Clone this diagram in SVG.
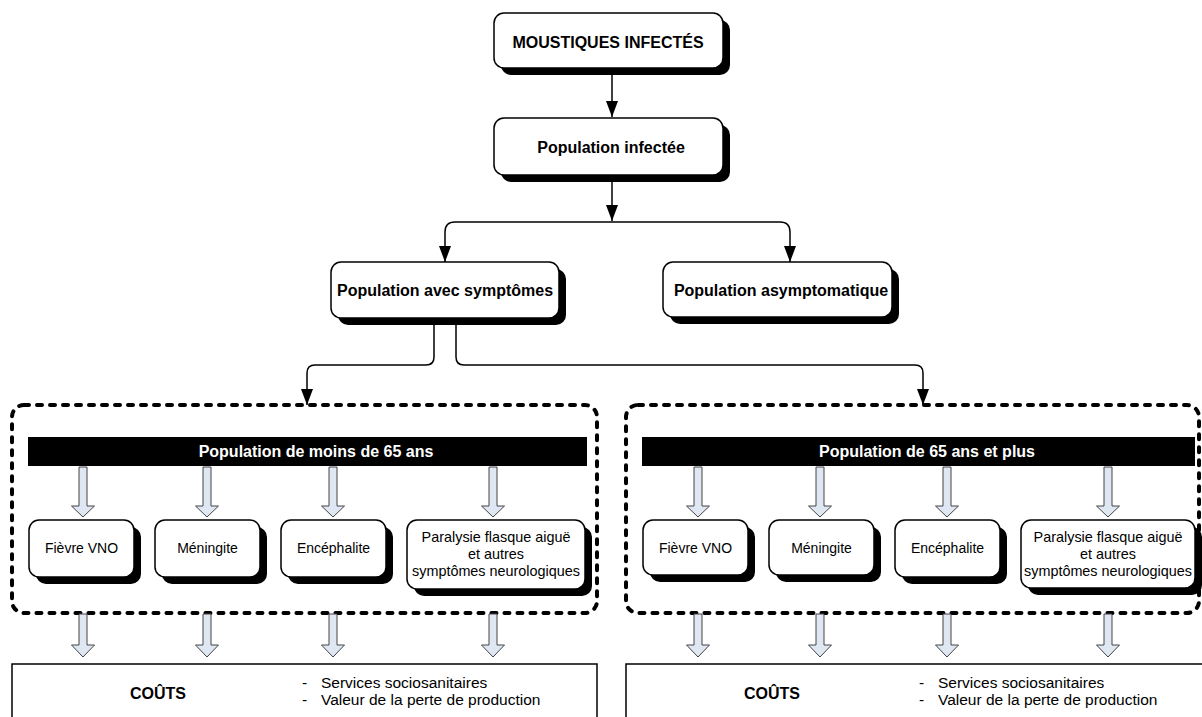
<svg xmlns="http://www.w3.org/2000/svg" width="1202" height="717" viewBox="0 0 1202 717">
<style>
.box{fill:#fff;stroke:#000;stroke-width:1.5}
.sh{fill:#000}
.hd{font-family:"Liberation Sans",Arial,sans-serif;font-weight:bold;font-size:16px;fill:#000;text-anchor:middle}
.wt{font-family:"Liberation Sans",Arial,sans-serif;font-weight:bold;font-size:16px;fill:#fff;text-anchor:middle}
.tx{font-family:"Liberation Sans",Arial,sans-serif;font-size:14px;fill:#000;text-anchor:middle}
.tp{font-family:"Liberation Sans",Arial,sans-serif;font-size:14.4px;fill:#000;text-anchor:middle}
.ct{font-family:"Liberation Sans",Arial,sans-serif;font-size:15.5px;fill:#000}
.con{fill:none;stroke:#000;stroke-width:1.5}
.dash{fill:none;stroke:#000;stroke-width:4;stroke-dasharray:5 8;stroke-linecap:round}
.ha{fill:#dfe7f3;stroke:#444;stroke-width:1}
.cost{fill:#fff;stroke:#000;stroke-width:1.5}
</style>
<defs>
<marker id="ah" viewBox="0 0 16 12" refX="16" refY="6" markerWidth="16" markerHeight="12" markerUnits="userSpaceOnUse" orient="auto">
<path d="M0,0 L16,6 L0,12 z" fill="#000"/>
</marker>
</defs>

<g id="connectors">
<path class="con" d="M612,68 V117" marker-end="url(#ah)"/>
<path class="con" d="M612,175 V221" marker-end="url(#ah)"/>
<path class="con" d="M612,222 H455 Q445,222 445,232 V262" marker-end="url(#ah)"/>
<path class="con" d="M612,222 H780 Q790,222 790,232 V262" marker-end="url(#ah)"/>
<path class="con" d="M434,318 V357 Q434,365 426,365 H315 Q307,365 307,373 V405" marker-end="url(#ah)"/>
<path class="con" d="M456,318 V357 Q456,365 464,365 H915 Q923,365 923,373 V405" marker-end="url(#ah)"/>
</g>

<g id="n-moustiques">
<rect class="sh" x="501" y="20" width="229" height="55" rx="10"/>
<rect class="box" x="494" y="13" width="229" height="55" rx="10"/>
<text class="hd" x="608" y="48">MOUSTIQUES INFECTÉS</text>
</g>

<g id="n-infectee">
<rect class="sh" x="501" y="125" width="229" height="57" rx="10"/>
<rect class="box" x="494" y="118" width="229" height="57" rx="10"/>
<text class="hd" x="611" y="153">Population infectée</text>
</g>

<g id="n-symptomes">
<rect class="sh" x="338" y="269" width="228" height="56" rx="10"/>
<rect class="box" x="331" y="262" width="228" height="56" rx="10"/>
<text class="hd" x="445" y="296">Population avec symptômes</text>
</g>

<g id="n-asympto">
<rect class="sh" x="670" y="269" width="229" height="55" rx="10"/>
<rect class="box" x="663" y="262" width="229" height="55" rx="10"/>
<text class="hd" x="781" y="296">Population asymptomatique</text>
</g>

<g id="g-moins65">
<rect class="dash" x="12" y="405" width="585" height="208" rx="12"/>
<rect x="28" y="437" width="559" height="29" fill="#000"/>
<text class="wt" x="316" y="457">Population de moins de 65 ans</text>
<polygon class="ha" points="79,467 87,467 87,506 94.5,506 83,517 71.5,506 79,506"/>
<polygon class="ha" points="203,467 211,467 211,506 218.5,506 207,517 195.5,506 203,506"/>
<polygon class="ha" points="329,467 337,467 337,506 344.5,506 333,517 321.5,506 329,506"/>
<polygon class="ha" points="489,467 497,467 497,506 504.5,506 493,517 481.5,506 489,506"/>
</g>

<g id="n-fievre1">
<rect class="sh" x="36" y="527" width="105" height="57" rx="10"/>
<rect class="box" x="29" y="520" width="105" height="57" rx="10"/>
<text class="tx" x="81.5" y="553">Fièvre VNO</text>
</g>
<g id="n-meningite1">
<rect class="sh" x="162" y="527" width="105" height="57" rx="10"/>
<rect class="box" x="155" y="520" width="105" height="57" rx="10"/>
<text class="tx" x="207.5" y="553">Méningite</text>
</g>
<g id="n-encephalite1">
<rect class="sh" x="288" y="527" width="105" height="57" rx="10"/>
<rect class="box" x="281" y="520" width="105" height="57" rx="10"/>
<text class="tx" x="333.5" y="553">Encéphalite</text>
</g>
<g id="n-paralysie1">
<rect class="sh" x="414" y="527" width="178" height="69" rx="10"/>
<rect class="box" x="407" y="520" width="178" height="69" rx="10"/>
<text class="tp" x="496" y="542">Paralysie flasque aiguë</text>
<text class="tp" x="496" y="559">et autres</text>
<text class="tp" x="496" y="576">symptômes neurologiques</text>
</g>

<g id="g-plus65">
<rect class="dash" x="626" y="405" width="573" height="208" rx="12"/>
<rect x="642" y="437" width="553" height="29" fill="#000"/>
<text class="wt" x="927" y="457">Population de 65 ans et plus</text>
<polygon class="ha" points="694,467 702,467 702,506 709.5,506 698,517 686.5,506 694,506"/>
<polygon class="ha" points="816,467 824,467 824,506 831.5,506 820,517 808.5,506 816,506"/>
<polygon class="ha" points="943,467 951,467 951,506 958.5,506 947,517 935.5,506 943,506"/>
<polygon class="ha" points="1104,467 1112,467 1112,506 1119.5,506 1108,517 1096.5,506 1104,506"/>
</g>

<g id="n-fievre2">
<rect class="sh" x="650" y="527" width="105" height="55" rx="10"/>
<rect class="box" x="643" y="520" width="105" height="55" rx="10"/>
<text class="tx" x="695.5" y="553">Fièvre VNO</text>
</g>
<g id="n-meningite2">
<rect class="sh" x="776" y="527" width="105" height="55" rx="10"/>
<rect class="box" x="769" y="520" width="105" height="55" rx="10"/>
<text class="tx" x="821.5" y="553">Méningite</text>
</g>
<g id="n-encephalite2">
<rect class="sh" x="902" y="527" width="105" height="57" rx="10"/>
<rect class="box" x="895" y="520" width="105" height="57" rx="10"/>
<text class="tx" x="947.5" y="553">Encéphalite</text>
</g>
<g id="n-paralysie2">
<rect class="sh" x="1028" y="527" width="174" height="68" rx="10"/>
<rect class="box" x="1021" y="520" width="174" height="68" rx="10"/>
<text class="tp" x="1108" y="542">Paralysie flasque aiguë</text>
<text class="tp" x="1108" y="559">et autres</text>
<text class="tp" x="1108" y="576">symptômes neurologiques</text>
</g>

<g id="bottom-arrows">
<polygon class="ha" points="79,614 87,614 87,645 94.5,645 83,657 71.5,645 79,645"/>
<polygon class="ha" points="203,614 211,614 211,645 218.5,645 207,657 195.5,645 203,645"/>
<polygon class="ha" points="329,614 337,614 337,645 344.5,645 333,657 321.5,645 329,645"/>
<polygon class="ha" points="489,614 497,614 497,645 504.5,645 493,657 481.5,645 489,645"/>
<polygon class="ha" points="694,614 702,614 702,645 709.5,645 698,657 686.5,645 694,645"/>
<polygon class="ha" points="816,614 824,614 824,645 831.5,645 820,657 808.5,645 816,645"/>
<polygon class="ha" points="943,614 951,614 951,645 958.5,645 947,657 935.5,645 943,645"/>
<polygon class="ha" points="1104,614 1112,614 1112,645 1119.5,645 1108,657 1096.5,645 1104,645"/>
</g>

<g id="n-couts1">
<rect class="cost" x="12" y="664" width="585" height="70"/>
<text class="hd" x="158" y="699">COÛTS</text>
<text class="ct" x="302" y="688">-</text>
<text class="ct" x="321" y="688">Services sociosanitaires</text>
<text class="ct" x="302" y="705">-</text>
<text class="ct" x="321" y="705">Valeur de la perte de production</text>
</g>

<g id="n-couts2">
<rect class="cost" x="626" y="664" width="590" height="70"/>
<text class="hd" x="772" y="699">COÛTS</text>
<text class="ct" x="919" y="688">-</text>
<text class="ct" x="938" y="688">Services sociosanitaires</text>
<text class="ct" x="919" y="705">-</text>
<text class="ct" x="938" y="705">Valeur de la perte de production</text>
</g>
</svg>
